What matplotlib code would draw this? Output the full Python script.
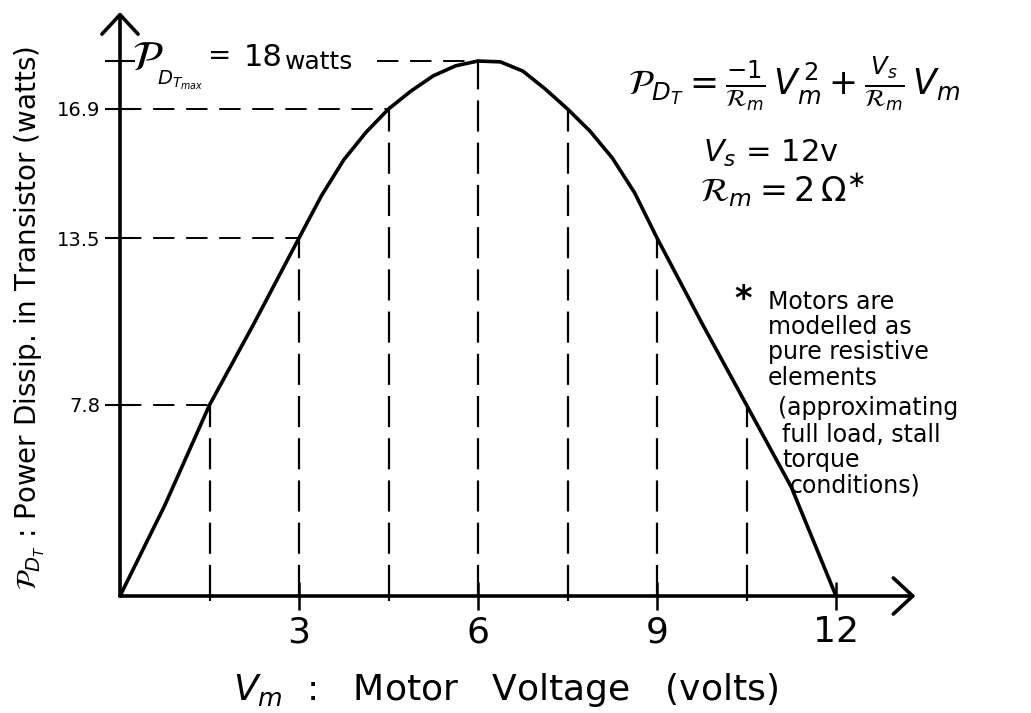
import numpy as np
import matplotlib.pyplot as plt

# power dissipated in the drive transistor vs. motor voltage (Vs = 12 V, Rm = 2 ohm)
motor_v = [0, 0.75, 1.5, 2.25, 3, 3.375, 3.75, 4.125, 4.5, 4.875, 5.25, 5.625, 6,
           6.375, 6.75, 7.125, 7.5, 7.875, 8.25, 8.625, 9, 9.75, 10.5, 11.25, 12]
power_w = [0, 3.7, 7.8, 10.6, 13.5, 14.61, 15.56, 16.29, 16.9, 17.31, 17.66, 17.89, 18,
           17.98, 17.77, 17.36, 16.9, 16.32, 15.61, 14.69, 13.5, 10.6, 7.8, 4.45, 0]

# construction lines dropped from the curve to the voltage axis
guide_v = [1.5, 3, 4.5, 6, 7.5, 9, 10.5]
guide_p = [7.8, 13.5, 16.9, 18, 16.9, 13.5, 7.8]

level_p = [7.8, 13.5, 16.9, 18]
level_labels = ["7.8", "13.5", "16.9", ""]
volt_ticks = [3, 6, 9, 12]
volt_labels = ["3", "6", "9", "12"]
half_ticks = [1.5, 4.5, 7.5, 10.5]

note_lines = ["Motors are", "modelled as", "pure resistive", "elements",
              "(approximating", "full load, stall", "torque", "conditions)"]

# the power axis is hand ruled, so each marked level gets its own height (px above the axis)
scale_vals = [0, 7.8, 13.5, 16.9, 18, 30]
scale_px = [0, 191, 358, 487, 535, 1058]


def fwd(y):
    return np.interp(y, scale_vals, scale_px)


def inv(p):
    return np.interp(p, scale_px, scale_vals)


W, H = 1031, 713
fig = plt.figure(figsize=(W / 100, H / 100), dpi=100)
ax = fig.add_axes([120 / W, 117 / H, 800 / W, 584 / H])
ax.set_yscale('function', functions=(fwd, inv))
ax.set_xlim(0, 800 / 59.67)
ytop = float(inv(584))
ax.set_ylim(0, ytop)
for s in ax.spines.values():
    s.set_visible(False)


def put(x, y, s, **kw):
    kw.setdefault('color', 'black')
    fig.text(x / W, 1 - y / H, s, **kw)


# axes drawn as arrows
arrow = dict(arrowstyle='->,head_length=1.4,head_width=1.3', lw=2.6, color='black',
             shrinkA=0, shrinkB=0)
ax.annotate('', xy=(13.33, 0), xytext=(0, 0), arrowprops=arrow, annotation_clip=False)
ax.annotate('', xy=(0, ytop), xytext=(0, 0), arrowprops=arrow, annotation_clip=False)

for v, p in zip(guide_v, guide_p):
    ax.plot([v, v], [0, p], color='black', lw=1.6, ls=(0, (14, 5)), zorder=1)
for v, p in zip(guide_v[:3], guide_p[:3]):
    ax.plot([0, v], [p, p], color='black', lw=1.4, ls=(0, (11, 6)), zorder=1)
ax.plot([4.3, 6], [18, 18], color='black', lw=1.4, ls=(0, (11, 6)), zorder=1)

ax.plot(motor_v, power_w, color='black', lw=2.6, solid_joinstyle='round',
        solid_capstyle='round', clip_on=False, zorder=3)

ax.set_xticks(volt_ticks, volt_labels)
ax.set_xticks(half_ticks, minor=True)
ax.set_yticks(level_p, level_labels)
ax.tick_params(axis='x', which='major', direction='inout', length=20, width=1.8,
               labelsize=26, pad=4)
ax.tick_params(axis='x', which='minor', direction='inout', length=7, width=1.5)
ax.tick_params(axis='y', direction='inout', length=22, width=1.5, labelsize=14, pad=3)

# axis titles
put(506, 690, r"$V_m$  :   Motor   Voltage   (volts)", fontsize=26, ha='center', va='center')
put(30, 318, r"$\mathcal{P}_{D_T}$ : Power Dissip. in Transistor (watts)", fontsize=20,
    rotation=90, ha='center', va='center')

# peak annotation
put(132, 58, r"$\mathcal{P}$", fontsize=30, ha='left', va='center')
put(157, 80, r"$D_{T_{max}}$", fontsize=14, ha='left', va='center')
put(208, 56, "=", fontsize=20, ha='left', va='center')
put(244, 58, "18", fontsize=22, ha='left', va='center')
put(285, 62, "watts", fontsize=18, ha='left', va='center')

# transistor power relation
put(628, 84, r"$\mathcal{P}_{D_T} = \frac{-1}{\mathcal{R}_m}\,V_m^{\,2}+\frac{V_s}{\mathcal{R}_m}\,V_m$",
    fontsize=25, ha='left', va='center')
put(703, 153, r"$V_s$ = 12v", fontsize=22, ha='left', va='center')
put(700, 190, r"$\mathcal{R}_m = 2\,\Omega^{\ast}$", fontsize=24, ha='left', va='center')

# footnote
put(734, 300, "*", fontsize=24, ha='left', va='center', fontweight='bold')
note_x = [768, 768, 768, 768, 778, 782, 782, 790]
note_y = [302, 327, 352, 378, 408, 435, 460, 486]
for x, y, s in zip(note_x, note_y, note_lines):
    put(x, y, s, fontsize=17, ha='left', va='center')

fig.savefig('out.png', dpi=100)
